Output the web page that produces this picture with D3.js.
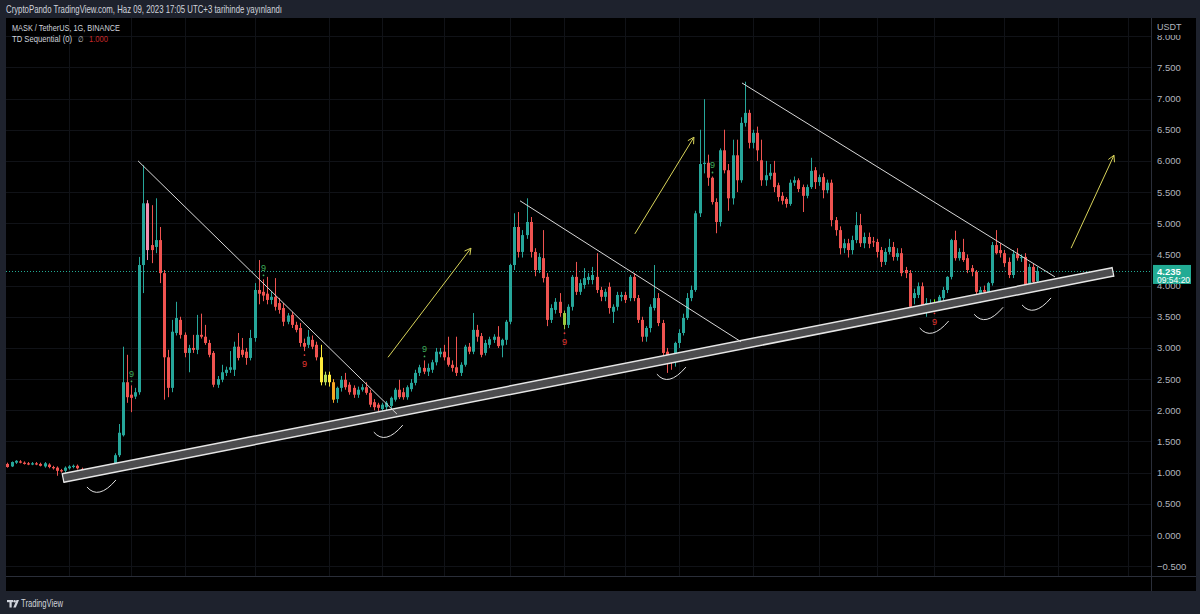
<!DOCTYPE html>
<html><head><meta charset="utf-8">
<script src="https://d3js.org/d3.v7.min.js"></script>
<style>
html,body{margin:0;padding:0;background:#1e222d;overflow:hidden}
svg{display:block}
text{font-family:"Liberation Sans",Arial,sans-serif}
</style></head><body>
<svg id="chart" width="1200" height="614"></svg>
<script>
// ---------------- DATA ----------------
const firstDay = "2022-10-01T00:00";
const lastDay  = "2023-06-09T00:00";
const open = [
1.15,1.14,1.10,1.16,1.18,1.16,1.15,1.13,1.15,1.14,
1.10,1.13,1.09,1.08,1.04,1.03,1.07,1.09,1.11,1.06,
1.00,1.02,1.02,1.04,1.03,1.06,1.07,1.12,1.28,1.60,
2.45,2.25,2.22,2.29,4.33,5.32,4.65,4.62,4.73,4.20,
2.85,2.36,3.24,3.45,3.21,2.92,3.00,2.97,3.21,3.18,
3.08,2.92,2.41,2.49,2.60,2.65,2.65,3.02,2.97,2.94,
2.84,3.16,3.93,3.90,3.87,3.77,3.82,3.72,3.64,3.42,
3.53,3.37,3.32,3.08,3.05,3.13,3.05,2.85,2.45,2.57,
2.45,2.18,2.36,2.49,2.41,2.36,2.25,2.33,2.37,2.28,
2.13,2.09,2.02,2.05,2.07,2.17,2.33,2.29,2.21,2.34,
2.44,2.60,2.68,2.62,2.65,2.77,2.90,2.94,2.85,2.73,
2.69,2.60,2.73,3.02,2.94,3.29,3.19,2.92,3.05,3.13,
3.18,3.04,3.13,3.42,4.33,4.94,4.54,4.81,5.02,4.54,
4.25,4.44,4.14,3.45,3.61,3.74,3.56,3.37,3.66,4.14,
3.90,4.01,4.09,4.09,4.14,3.93,3.82,3.98,3.58,3.66,
3.82,3.85,3.80,4.14,3.80,3.45,3.18,3.32,3.64,3.80,
3.40,2.94,2.85,2.81,3.08,3.24,3.48,3.80,3.93,5.16,
5.95,5.97,5.73,5.34,5.02,6.17,5.85,5.40,6.09,5.69,
6.61,6.77,6.29,6.45,6.01,5.69,5.76,5.81,5.61,5.44,
5.39,5.31,5.65,5.69,5.58,5.44,5.58,5.85,5.66,5.74,
5.53,5.65,5.05,4.89,4.60,4.68,4.57,4.73,4.97,4.68,
4.78,4.71,4.70,4.57,4.38,4.54,4.62,4.46,4.52,4.25,
4.20,3.80,3.85,3.99,3.66,3.67,3.66,3.69,3.80,3.93,
4.14,4.73,4.44,4.54,4.44,4.28,4.22,3.88,3.93,3.90,
4.04,4.65,4.57,4.52,4.38,4.17,4.51,4.44,4.46,4.01,
4.30,4.07];
const high = [
1.17,1.16,1.18,1.20,1.20,1.18,1.17,1.17,1.17,1.16,
1.17,1.15,1.11,1.10,1.06,1.10,1.12,1.13,1.13,1.08,
1.04,1.05,1.06,1.06,1.08,1.10,1.14,1.31,1.78,3.02,
2.89,2.40,2.36,4.46,5.93,5.37,5.29,5.40,4.94,4.25,
2.97,3.45,3.74,3.50,3.25,3.05,3.21,3.53,3.55,3.37,
3.13,2.95,2.55,2.73,2.70,2.95,3.10,3.24,3.16,3.00,
3.29,4.04,4.41,4.10,4.14,3.90,4.12,3.80,3.72,3.56,
3.58,3.42,3.40,3.15,3.29,3.20,3.10,3.05,2.62,2.62,
2.50,2.38,2.55,2.60,2.45,2.40,2.38,2.42,2.45,2.33,
2.18,2.12,2.12,2.15,2.22,2.36,2.49,2.36,2.40,2.50,
2.65,2.73,2.80,2.75,2.81,3.00,3.00,3.05,3.18,2.80,
3.18,2.77,3.05,3.08,3.56,3.37,3.24,3.13,3.18,3.22,
3.35,3.15,3.45,4.35,5.16,5.18,4.89,5.40,5.10,4.60,
4.52,4.89,4.20,3.70,3.80,3.88,3.60,3.70,4.17,4.38,
4.10,4.28,4.20,4.30,4.52,3.98,3.95,4.05,3.70,3.90,
3.90,3.90,4.17,4.20,3.85,3.50,3.35,3.70,4.33,3.88,
3.45,3.00,2.90,3.10,3.30,3.55,3.88,4.00,5.20,6.50,
6.99,6.10,5.75,5.40,6.20,6.50,5.95,6.34,6.34,6.70,
7.27,6.82,6.50,6.55,6.34,6.00,5.95,6.00,5.65,5.50,
5.42,5.70,5.75,5.72,5.62,5.62,6.05,5.90,5.78,5.80,
5.70,5.70,5.10,4.95,4.75,4.75,4.80,5.18,5.15,4.85,
4.85,4.78,4.75,4.62,4.60,4.75,4.70,4.60,4.60,4.30,
4.25,3.95,4.05,4.05,3.80,3.78,3.78,3.85,3.98,4.15,
4.75,4.88,4.60,4.75,4.50,4.33,4.25,3.98,4.00,4.06,
4.70,4.89,4.68,4.57,4.45,4.57,4.60,4.50,4.52,4.35,
4.35,4.30];
const low = [
1.11,1.08,1.09,1.14,1.15,1.13,1.12,1.12,1.12,1.10,
1.08,1.07,1.05,0.95,1.00,1.00,1.05,1.07,1.05,0.99,
0.97,0.99,1.00,1.01,1.01,1.04,1.05,1.10,1.25,1.58,
2.12,1.97,2.18,2.25,3.88,4.41,4.36,4.52,4.04,2.17,
2.21,2.29,3.20,3.15,2.85,2.61,2.92,2.90,3.15,3.05,
2.85,2.37,2.36,2.45,2.55,2.60,2.55,2.80,2.85,2.73,
2.80,3.10,3.70,3.75,3.70,3.70,3.60,3.55,3.35,3.38,
3.32,3.25,3.02,2.95,3.00,2.98,2.80,2.40,2.40,2.38,
2.12,2.12,2.30,2.33,2.25,2.20,2.20,2.30,2.25,2.05,
2.00,1.98,1.98,2.00,2.02,2.14,2.18,2.17,2.17,2.30,
2.40,2.55,2.58,2.55,2.60,2.72,2.85,2.80,2.70,2.62,
2.55,2.55,2.70,2.90,2.90,3.10,2.85,2.88,3.00,3.08,
3.00,2.85,3.05,3.38,4.25,4.45,4.45,4.75,4.45,4.15,
4.20,4.05,3.35,3.40,3.55,3.50,3.30,3.32,3.60,3.85,
3.85,3.95,4.02,4.02,3.88,3.75,3.75,3.55,3.40,3.60,
3.75,3.72,3.75,3.75,3.40,3.10,3.10,3.25,3.60,3.35,
2.88,2.60,2.65,2.70,3.00,3.20,3.45,3.75,3.90,5.10,
5.80,5.60,5.30,4.84,4.95,5.80,5.20,5.30,5.50,5.65,
6.55,6.20,6.20,6.00,5.60,5.60,5.70,5.50,5.35,5.30,
5.25,5.28,5.60,5.50,5.18,5.40,5.55,5.55,5.60,5.40,
5.48,4.95,4.80,4.50,4.52,4.45,4.50,4.68,4.62,4.60,
4.60,4.62,4.45,4.30,4.33,4.50,4.40,4.40,4.15,4.12,
3.60,3.70,3.80,3.60,3.50,3.60,3.62,3.65,3.75,3.88,
4.10,4.40,4.40,4.38,4.20,4.15,3.72,3.72,3.80,3.85,
4.00,4.50,4.45,4.30,4.12,4.12,4.40,4.38,3.88,3.95,
4.00,4.02];
const close = [
1.12,1.09,1.17,1.19,1.16,1.14,1.13,1.15,1.13,1.11,
1.15,1.09,1.07,1.03,1.02,1.08,1.10,1.11,1.07,1.01,
1.02,1.03,1.04,1.03,1.06,1.08,1.12,1.28,1.64,2.45,
2.21,2.20,2.29,4.33,5.32,4.57,4.57,4.73,4.20,2.85,
2.36,3.26,3.48,3.21,2.92,3.00,2.97,3.21,3.18,3.08,
2.89,2.41,2.50,2.61,2.65,2.69,3.02,2.84,2.89,2.84,
3.16,3.93,3.87,3.84,3.77,3.82,3.66,3.61,3.42,3.52,
3.37,3.29,3.08,3.02,3.18,3.02,2.85,2.45,2.57,2.45,
2.17,2.36,2.49,2.37,2.29,2.25,2.33,2.37,2.28,2.09,
2.05,2.04,2.09,2.12,2.20,2.33,2.21,2.21,2.37,2.44,
2.60,2.69,2.62,2.68,2.77,2.94,2.94,2.85,2.73,2.68,
2.60,2.73,3.02,2.94,3.29,3.18,2.89,3.08,3.14,3.18,
3.03,3.13,3.42,4.33,4.94,4.54,4.81,5.02,4.54,4.25,
4.46,4.12,3.45,3.64,3.74,3.56,3.37,3.66,4.14,3.90,
4.04,4.12,4.14,4.17,3.93,3.82,3.90,3.64,3.66,3.85,
3.85,3.77,4.14,3.80,3.45,3.18,3.32,3.66,3.80,3.40,
2.92,2.85,2.81,3.08,3.24,3.48,3.80,3.93,5.16,5.95,
5.97,5.73,5.34,5.02,6.17,5.85,5.40,6.09,5.69,6.61,
6.77,6.29,6.45,6.17,5.69,5.77,5.81,5.58,5.42,5.36,
5.31,5.65,5.69,5.55,5.44,5.58,5.84,5.66,5.74,5.53,
5.65,5.05,4.89,4.60,4.68,4.57,4.73,4.97,4.68,4.78,
4.67,4.70,4.54,4.38,4.54,4.62,4.46,4.52,4.20,4.20,
3.66,3.88,3.99,3.69,3.72,3.72,3.72,3.82,3.93,4.14,
4.73,4.44,4.54,4.41,4.25,4.22,3.90,3.93,3.90,4.04,
4.65,4.52,4.52,4.36,4.17,4.51,4.44,4.46,4.01,4.30,
4.06,4.235];
const lastPrice = 4.235;
const countdown = "09:54:20";

// TD Sequential marks (bar index)
const tdSellNines = [31, 63, 102, 172];
const tdBuyNines  = [73, 136, 226];
const tdBarIndex  = [35, 77, 78, 79, 80, 136, 226];
const tdBarColor  = ["#f48fb1", "#ffeb3b", "#b5dd5c", "#ffeb3b", "#f5a623", "#9ccc3f", "#76ff03"];

// Axis ticks
const priceTicks = [-0.5,0,0.5,1,1.5,2,2.5,3,3.5,4,4.5,5,5.5,6,6.5,7,7.5,8];
const timeTickDates = ["2022-10-01","2022-10-17","2022-11-01","2022-11-14","2022-12-01","2022-12-19","2023-01-01","2023-01-16","2023-02-01","2023-02-14","2023-03-01","2023-03-14","2023-04-01","2023-04-17","2023-05-01","2023-05-15","2023-06-01","2023-06-14","2023-07-01"];
const timeTickLabels = ["Eki","17","Kas","14","Ara","19","2023","16","Şub","14","Mar","14","Nis","17","May","15","Haz","14","Tem"];

// Drawings (date, price)
const channelLine = [["2022-10-15T12:00",0.914],["2023-06-27T08:00",4.22]];
const trendLines = [
  [["2022-11-02T17:00",6.00],["2023-01-04T13:00",1.94]],
  [["2023-02-03T10:00",5.36],["2023-03-29T01:00",3.10]],
  [["2023-03-29T07:00",7.25],["2023-06-13T06:00",4.14]]
];
const arrowLines = [
  [["2023-01-02T09:00",2.85],["2023-01-22T12:00",4.60]],
  [["2023-03-03T07:00",4.83],["2023-03-17T15:00",6.38]],
  [["2023-06-17T04:00",4.60],["2023-06-27T14:00",6.09]]
];
const smileMarks = [["2022-10-24T11:00",0.69],["2023-01-02T02:00",1.57],["2023-03-11T19:00",2.50],["2023-05-14T14:00",3.24],["2023-05-27T19:00",3.46],["2023-06-08T10:00",3.61]];

// ---------------- CHART ----------------
const svg = d3.select("#chart");
const PANE = {l:6, r:1196, t:18, b:591};
const PLOT_R = 1151, TIME_T = 576;
const parse = d3.timeParse("%Y-%m-%dT%H:%M");
const parseD = d3.timeParse("%Y-%m-%d");
const dates = d3.timeDay.range(parse(firstDay), d3.timeDay.offset(parse(lastDay),1));
const x = d3.scaleTime().domain([parseD("2022-10-01"), parseD("2023-07-01")]).range([3.3, 3.3 + 273*4.12]);
const y = d3.scaleLinear().domain([0, 8]).range([535, 36.2]);
const UP = "#26a69a", DOWN = "#ef5350";

svg.append("rect").attr("width",1200).attr("height",614).attr("fill","#1e222d");
svg.append("rect").attr("x",PANE.l).attr("y",PANE.t).attr("width",PANE.r-PANE.l).attr("height",PANE.b-PANE.t).attr("fill","#000");

const defs = svg.append("defs");
defs.append("clipPath").attr("id","plotClip").append("rect")
  .attr("x",PANE.l).attr("y",PANE.t).attr("width",PLOT_R-PANE.l).attr("height",TIME_T-PANE.t);
defs.append("clipPath").attr("id","timeClip").append("rect")
  .attr("x",PANE.l).attr("y",TIME_T).attr("width",PLOT_R-PANE.l).attr("height",PANE.b-TIME_T);

const plot = svg.append("g").attr("clip-path","url(#plotClip)");

// grid
const gridCol = "#101217";
plot.append("g").selectAll("line").data(priceTicks).join("line")
  .attr("x1",PANE.l).attr("x2",PLOT_R)
  .attr("y1",d=>Math.round(y(d))+0.5).attr("y2",d=>Math.round(y(d))+0.5)
  .attr("stroke",gridCol).attr("stroke-width",1);
plot.append("g").selectAll("line").data(timeTickDates).join("line")
  .attr("x1",d=>Math.round(x(parseD(d)))+0.5).attr("x2",d=>Math.round(x(parseD(d)))+0.5)
  .attr("y1",PANE.t).attr("y2",TIME_T)
  .attr("stroke",gridCol).attr("stroke-width",1);

// last price dotted line
plot.append("line").attr("x1",PANE.l).attr("x2",PLOT_R)
  .attr("y1",Math.round(y(lastPrice))+0.5).attr("y2",Math.round(y(lastPrice))+0.5)
  .attr("stroke","#22ab94").attr("stroke-dasharray","1,2").attr("stroke-width",1);

// candles
const tdMap = new Map(tdBarIndex.map((b,i)=>[b,tdBarColor[i]]));
const candles = dates.map((d,i)=>({d,i,o:open[i],h:high[i],l:low[i],c:close[i]}));
const colorOf = c => tdMap.has(c.i) ? tdMap.get(c.i) : (c.c >= c.o ? UP : DOWN);
const cg = plot.append("g");
cg.selectAll("line").data(candles).join("line")
  .attr("x1",c=>Math.round(x(c.d))+0.5).attr("x2",c=>Math.round(x(c.d))+0.5)
  .attr("y1",c=>y(c.h)).attr("y2",c=>y(c.l))
  .attr("stroke",colorOf).attr("stroke-width",1);
cg.selectAll("rect").data(candles).join("rect")
  .attr("x",c=>Math.round(x(c.d))-1).attr("width",3)
  .attr("y",c=>y(Math.max(c.o,c.c)))
  .attr("height",c=>Math.max(1, Math.abs(y(c.o)-y(c.c))))
  .attr("fill",colorOf);

// TD nines
const tdg = plot.append("g").attr("font-size",9);
tdg.selectAll("text.s").data(tdSellNines).join("text").attr("class","s")
  .attr("x",i=>Math.round(x(dates[i]))+0.5).attr("y",i=>y(high[i])-8)
  .attr("text-anchor","middle").attr("fill","#3fae5a").text("9");
tdg.selectAll("circle.s").data(tdSellNines).join("circle").attr("class","s")
  .attr("cx",i=>Math.round(x(dates[i]))+0.5).attr("cy",i=>y(high[i])-4).attr("r",0.9).attr("fill","#3fae5a");
tdg.selectAll("text.b").data(tdBuyNines).join("text").attr("class","b")
  .attr("x",i=>Math.round(x(dates[i]))+0.5).attr("y",i=>y(low[i])+16)
  .attr("text-anchor","middle").attr("fill","#e53935").text("9");
tdg.selectAll("circle.b").data(tdBuyNines).join("circle").attr("class","b")
  .attr("cx",i=>Math.round(x(dates[i]))+0.5).attr("cy",i=>y(low[i])+4).attr("r",0.9).attr("fill","#e53935");

// drawings
const P = p => [x(parse(p[0])), y(p[1])];
const dg = plot.append("g");
const cl = channelLine.map(P);
dg.append("line").attr("x1",cl[0][0]).attr("y1",cl[0][1]).attr("x2",cl[1][0]).attr("y2",cl[1][1])
  .attr("stroke","#e6e6e6").attr("stroke-width",10).attr("stroke-linecap","butt");
dg.append("line").attr("x1",cl[0][0]).attr("y1",cl[0][1]).attr("x2",cl[1][0]).attr("y2",cl[1][1])
  .attr("stroke","#4d4d4f").attr("stroke-width",7).attr("stroke-linecap","butt");
[0,1].forEach(k=>{
  const a = Math.atan2(cl[1][1]-cl[0][1], cl[1][0]-cl[0][0]) + Math.PI/2;
  const c = cl[k];
  dg.append("line").attr("x1",c[0]-5*Math.cos(a)).attr("y1",c[1]-5*Math.sin(a))
    .attr("x2",c[0]+5*Math.cos(a)).attr("y2",c[1]+5*Math.sin(a))
    .attr("stroke","#e6e6e6").attr("stroke-width",1.2);
});
trendLines.forEach(t=>{
  const a=P(t[0]), b=P(t[1]);
  dg.append("line").attr("x1",a[0]).attr("y1",a[1]).attr("x2",b[0]).attr("y2",b[1])
    .attr("stroke","#d8d8d8").attr("stroke-width",1);
});
arrowLines.forEach(t=>{
  const a=P(t[0]), b=P(t[1]);
  dg.append("line").attr("x1",a[0]).attr("y1",a[1]).attr("x2",b[0]).attr("y2",b[1])
    .attr("stroke","#d9d45a").attr("stroke-width",1);
  const ang = Math.atan2(b[1]-a[1], b[0]-a[0]);
  [ang+Math.PI-0.5, ang+Math.PI+0.5].forEach(t2=>{
    dg.append("line").attr("x1",b[0]).attr("y1",b[1])
      .attr("x2",b[0]+7*Math.cos(t2)).attr("y2",b[1]+7*Math.sin(t2))
      .attr("stroke","#d9d45a").attr("stroke-width",1);
  });
});
dg.selectAll("path.smile").data(smileMarks).join("path").attr("class","smile")
  .attr("transform",s=>{const p=P(s);return `translate(${p[0]},${p[1]})`;})
  .attr("d","M-13,-5 Q-1.5,8.5 16,-12")
  .attr("fill","none").attr("stroke","#e0e0e0").attr("stroke-width",1);

// separators
svg.append("line").attr("x1",PLOT_R+0.5).attr("x2",PLOT_R+0.5).attr("y1",PANE.t).attr("y2",PANE.b)
  .attr("stroke","#2a2e39");
svg.append("line").attr("x1",PANE.l).attr("x2",PANE.r).attr("y1",TIME_T+0.5).attr("y2",TIME_T+0.5)
  .attr("stroke","#2a2e39");

// price axis
const yAxis = d3.axisRight(y).tickValues(priceTicks).tickFormat(d3.format(".3f")).tickSize(0).tickPadding(6);
const ya = svg.append("g").attr("transform",`translate(${PLOT_R},0)`).call(yAxis);
ya.select(".domain").remove();
ya.selectAll("text").attr("fill","#b2b5be").attr("font-size",9.5).attr("font-family","Liberation Sans, Arial, sans-serif");
svg.append("rect").attr("x",PLOT_R+1).attr("y",PANE.t).attr("width",PANE.r-PLOT_R-1).attr("height",17).attr("fill","#000");
svg.append("text").attr("x",PLOT_R+6).attr("y",30).attr("fill","#b2b5be").attr("font-size",9).text("USDT");

// last price label
const ly = y(lastPrice);
svg.append("rect").attr("x",PLOT_R+2).attr("y",ly-6).attr("width",38).attr("height",19).attr("fill","#22ab94");
svg.append("text").attr("x",PLOT_R+6).attr("y",ly+4).attr("fill","#fff").attr("font-size",9.5).attr("font-weight","bold").text(d3.format(".3f")(lastPrice));
svg.append("text").attr("x",PLOT_R+6).attr("y",ly+12.5).attr("fill","#fff").attr("font-size",8.5).text(countdown);

// time axis
const xAxis = d3.axisBottom(x).tickValues(timeTickDates.map(parseD)).tickFormat((d,i)=>timeTickLabels[i]).tickSize(0).tickPadding(3);
const xa = svg.append("g").attr("transform",`translate(0,${TIME_T})`).attr("clip-path","url(#timeClip)");
xa.call(xAxis);
xa.select(".domain").remove();
xa.selectAll("text").attr("fill","#b2b5be").attr("font-size",9.5)
  .attr("font-family","'Liberation Sans Narrow','DejaVu Sans Condensed','Liberation Sans',sans-serif");

// header & legend
svg.append("text").attr("x",6).attr("y",12.5).attr("fill","#d1d4dc").attr("font-size",10.5)
  .attr("textLength",276).attr("lengthAdjust","spacingAndGlyphs")
  .text("CryptoPando TradingView.com, Haz 09, 2023 17:05 UTC+3 tarihinde yayınlandı");
svg.append("text").attr("x",12).attr("y",30.5).attr("fill","#d1d4dc").attr("font-size",9.5)
  .attr("textLength",108).attr("lengthAdjust","spacingAndGlyphs").text("MASK / TetherUS, 1G, BINANCE");
svg.append("text").attr("x",12).attr("y",41.5).attr("fill","#d1d4dc").attr("font-size",9.5)
  .attr("textLength",60).attr("lengthAdjust","spacingAndGlyphs").text("TD Sequential (0)");
svg.append("text").attr("x",78).attr("y",41.5).attr("fill","#d1d4dc").attr("font-size",8)
  .attr("textLength",5.5).attr("lengthAdjust","spacingAndGlyphs").text("∅");
svg.append("text").attr("x",89).attr("y",41.5).attr("fill","#c62828").attr("font-size",9.5)
  .attr("textLength",19).attr("lengthAdjust","spacingAndGlyphs").text("1.000");

// footer logo
const lg = svg.append("g").attr("fill","#d1d4dc");
lg.append("rect").attr("x",7).attr("y",600).attr("width",6).attr("height",2.2);
lg.append("rect").attr("x",9.5).attr("y",600).attr("width",2.2).attr("height",7.5);
lg.append("circle").attr("cx",14.6).attr("cy",601.2).attr("r",1.2);
lg.append("path").attr("d","M16.5,600 L19,600 L15.8,607.5 L13.3,607.5 Z");
svg.append("text").attr("x",21).attr("y",607).attr("fill","#d1d4dc").attr("font-size",10)
  .attr("textLength",42).attr("lengthAdjust","spacingAndGlyphs").text("TradingView");
</script>
</body></html>
